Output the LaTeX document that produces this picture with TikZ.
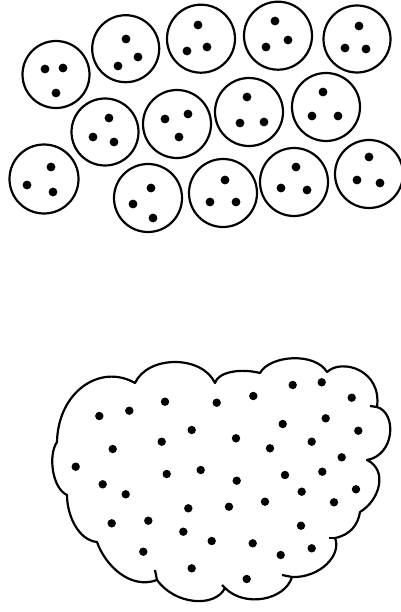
\documentclass[tikz,border=0pt]{standalone}
\usepackage{tikz}
\begin{document}
\begin{tikzpicture}[x=1pt,y=-1pt,
  cell/.style={line width=2.2pt},
  blob/.style={line width=2.2pt,line join=round},
  grain/.style={fill=black}]
\path[use as bounding box] (0,0) rectangle (400.0,612.0);
% cells, top row
\draw[cell] (56,74.5) circle[radius=33.5];
\fill[grain] (45,69) circle[radius=4.4] (63,68) circle[radius=4.4] (56,93) circle[radius=4.4];
\draw[cell] (125.7,48.7) circle[radius=33.5];
\fill[grain] (126,39) circle[radius=4.4] (138,57) circle[radius=4.4] (118,66) circle[radius=4.4];
\draw[cell] (201,38.7) circle[radius=34];
\fill[grain] (198,25) circle[radius=4.4] (207,47) circle[radius=4.4] (187,51) circle[radius=4.4];
\draw[cell] (278,35.7) circle[radius=34];
\fill[grain] (275,21) circle[radius=4.4] (288,40) circle[radius=4.4] (266,47) circle[radius=4.4];
\draw[cell] (357,39) circle[radius=33.5];
\fill[grain] (359,26) circle[radius=4.4] (345,48) circle[radius=4.4] (366,49) circle[radius=4.4];
% cells, middle row
\draw[cell] (105,132) circle[radius=33.5];
\fill[grain] (109,118) circle[radius=4.4] (93,137) circle[radius=4.4] (114,142) circle[radius=4.4];
\draw[cell] (177,124) circle[radius=34];
\fill[grain] (165,119) circle[radius=4.4] (188,114) circle[radius=4.4] (179,137) circle[radius=4.4];
\draw[cell] (249,112) circle[radius=34];
\fill[grain] (247,97) circle[radius=4.4] (240,123) circle[radius=4.4] (264,122) circle[radius=4.4];
\draw[cell] (326,107) circle[radius=34];
\fill[grain] (323,92) circle[radius=4.4] (312,116) circle[radius=4.4] (338,116) circle[radius=4.4];
% cells, bottom row
\draw[cell] (44,179) circle[radius=34.5];
\fill[grain] (51,167) circle[radius=4.4] (27,185) circle[radius=4.4] (53,192) circle[radius=4.4];
\draw[cell] (148,198) circle[radius=34];
\fill[grain] (151,188) circle[radius=4.4] (133,204) circle[radius=4.4] (153,218) circle[radius=4.4];
\draw[cell] (223,193) circle[radius=34];
\fill[grain] (225,180) circle[radius=4.4] (210,202) circle[radius=4.4] (236,202) circle[radius=4.4];
\draw[cell] (294,182) circle[radius=34];
\fill[grain] (296,167) circle[radius=4.4] (281,188) circle[radius=4.4] (307,190) circle[radius=4.4];
\draw[cell] (369,174) circle[radius=34];
\fill[grain] (369,157) circle[radius=4.4] (357,180) circle[radius=4.4] (380,183) circle[radius=4.4];
% merged mass
\draw[blob] (57,442) .. controls (58,392) and (100,363) .. (135,383)
  .. controls (148,355) and (202,355) .. (215,383)
  .. controls (218,372) and (240,368) .. (260,373)
  .. controls (270,355) and (315,352) .. (327,372)
  .. controls (342,358) and (382,370) .. (377,407)
  .. controls (397,413) and (395,455) .. (367,460)
  .. controls (388,470) and (380,500) .. (360,512)
  .. controls (358,525) and (350,535) .. (335,538)
  .. controls (342,555) and (320,578) .. (292,577)
  .. controls (285,600) and (245,608) .. (225,588)
  .. controls (215,608) and (175,605) .. (157,580)
  .. controls (130,590) and (105,565) .. (97,542)
  .. controls (78,540) and (67,515) .. (67,495)
  .. controls (52,488) and (48,455) .. cycle;
\draw[blob] (377,407) -- (370,406);
\draw[blob] (335,538) -- (329,538);
\draw[blob] (292,577) -- (282,575);
\draw[blob] (225,588) -- (222,585);
\draw[blob] (157,580) -- (155,570);
\fill[grain] (292.7,385) circle[radius=4.2] (321.7,382.3) circle[radius=4.2] (351.7,397.7) circle[radius=4.2];
\fill[grain] (253.3,396) circle[radius=4.2] (216.7,402.7) circle[radius=4.2] (165,401.7) circle[radius=4.2];
\fill[grain] (129.3,410.7) circle[radius=4.2] (99.3,416) circle[radius=4.2] (325.7,418.3) circle[radius=4.2];
\fill[grain] (282.7,424) circle[radius=4.2] (358.3,430.7) circle[radius=4.2] (191.7,430) circle[radius=4.2];
\fill[grain] (236,438.3) circle[radius=4.2] (161.7,441.7) circle[radius=4.2] (112.7,449) circle[radius=4.2];
\fill[grain] (311.7,441.7) circle[radius=4.2] (270,448.3) circle[radius=4.2] (341.7,457.3) circle[radius=4.2];
\fill[grain] (75.7,466.7) circle[radius=4.2] (200.7,470) circle[radius=4.2] (166.7,474) circle[radius=4.2];
\fill[grain] (236.7,480.7) circle[radius=4.2] (285,475) circle[radius=4.2] (322.3,471.7) circle[radius=4.2];
\fill[grain] (102.7,484.3) circle[radius=4.2] (125.7,494.3) circle[radius=4.2] (301.7,491.7) circle[radius=4.2];
\fill[grain] (356,489.3) circle[radius=4.2] (334,502.3) circle[radius=4.2] (265,501.7) circle[radius=4.2];
\fill[grain] (229,506.7) circle[radius=4.2] (188.3,508.3) circle[radius=4.2] (111.7,523.3) circle[radius=4.2];
\fill[grain] (148.3,520.7) circle[radius=4.2] (183.3,531.7) circle[radius=4.2] (301,525.7) circle[radius=4.2];
\fill[grain] (211.7,541) circle[radius=4.2] (252.7,543.3) circle[radius=4.2] (311.7,548.3) circle[radius=4.2];
\fill[grain] (280.7,555) circle[radius=4.2] (143.3,551.7) circle[radius=4.2] (191.7,568.3) circle[radius=4.2];
\fill[grain] (246.7,579) circle[radius=4.2];
\end{tikzpicture}
\end{document}
